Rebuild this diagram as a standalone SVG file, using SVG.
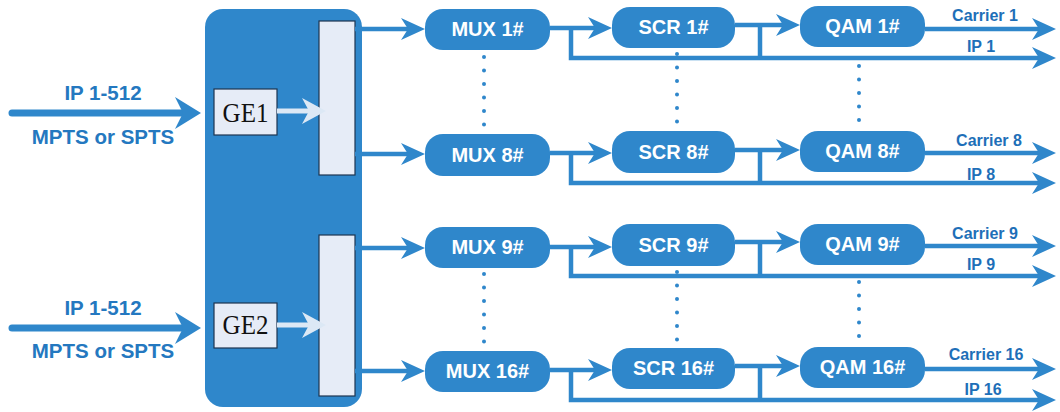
<svg xmlns="http://www.w3.org/2000/svg" width="1060" height="412" viewBox="0 0 1060 412">
<defs>
<style>
.node{fill:#2F87CB}
.nt{font-family:"Liberation Sans",Arial,sans-serif;font-weight:bold;font-size:20px;fill:#ffffff;text-anchor:middle}
.lbl{font-family:"Liberation Sans",Arial,sans-serif;font-weight:bold;font-size:16px;fill:#1E6FB8;text-anchor:middle}
.in{font-family:"Liberation Sans",Arial,sans-serif;font-weight:bold;font-size:20.5px;fill:#2478C0;text-anchor:middle}
.ge{font-family:"Liberation Serif","Times New Roman",serif;font-size:25px;fill:#111;text-anchor:middle}
.bar{fill:#E6ECF7;stroke:#1D3550;stroke-width:1.2}
.c{fill:none;stroke:#2F87CB;stroke-width:4.5}
.ca{fill:none;stroke:#2F87CB;stroke-width:4.5;marker-end:url(#ah)}
.dots{fill:none;stroke:#2F87CB;stroke-width:4;stroke-linecap:round;stroke-dasharray:0 13.5}
</style>
<marker id="ah" viewBox="0 0 24 24" refX="14" refY="12" markerWidth="24" markerHeight="24" markerUnits="userSpaceOnUse" orient="auto">
<path d="M0,1 L24,12 L0,23 L7,12 z" fill="#2F87CB"/>
</marker>
<marker id="ahin" viewBox="0 0 26 32" refX="16" refY="16" markerWidth="26" markerHeight="32" markerUnits="userSpaceOnUse" orient="auto">
<path d="M0,0 L26,16 L0,32 L8,16 z" fill="#2F87CB"/>
</marker>
<marker id="ahge" viewBox="0 0 24 26" refX="12" refY="13" markerWidth="24" markerHeight="26" markerUnits="userSpaceOnUse" orient="auto">
<path d="M0,0 L24,13 L0,26 L7,13 z" fill="#DCE8F5"/>
</marker>
</defs>
<rect width="1060" height="412" fill="#ffffff"/>

<g id="device">
<rect x="205" y="9" width="157" height="398" rx="18" class="node"/>
<rect x="319" y="21" width="36" height="154" class="bar"/>
<rect x="319" y="235" width="36" height="161" class="bar"/>
</g>
<g id="ge1">
<rect x="214" y="89" width="63" height="46" class="bar"/>
<text transform="translate(245.5,122) scale(1,1.13)" class="ge">GE1</text>
</g>
<g id="ge2">
<rect x="214" y="303" width="63" height="45" class="bar"/>
<text transform="translate(245.5,334) scale(1,1.13)" class="ge">GE2</text>
</g>

<g id="connectors">
<line x1="12" y1="113" x2="191" y2="113" stroke="#2F87CB" stroke-width="7" stroke-linecap="round" marker-end="url(#ahin)"/>
<line x1="12" y1="328" x2="191" y2="328" stroke="#2F87CB" stroke-width="7" stroke-linecap="round" marker-end="url(#ahin)"/>
<line x1="277" y1="111" x2="314" y2="111" stroke="#DCE8F5" stroke-width="5" marker-end="url(#ahge)"/>
<line x1="277" y1="325" x2="314" y2="325" stroke="#DCE8F5" stroke-width="5" marker-end="url(#ahge)"/>

<!-- row 1 -->
<line x1="355" y1="29" x2="415" y2="29" class="ca"/>
<line x1="550" y1="28" x2="602" y2="28" class="ca"/>
<path d="M571,28 V58 H1046" class="ca"/>
<line x1="735" y1="25" x2="790" y2="25" class="ca"/>
<path d="M760,25 V58" class="c"/>
<line x1="925" y1="29" x2="1046" y2="29" class="ca"/>
<!-- row 8 -->
<line x1="355" y1="154" x2="415" y2="154" class="ca"/>
<line x1="550" y1="153" x2="602" y2="153" class="ca"/>
<path d="M571,153 V183 H1046" class="ca"/>
<line x1="735" y1="150" x2="790" y2="150" class="ca"/>
<path d="M760,150 V183" class="c"/>
<line x1="925" y1="153" x2="1046" y2="153" class="ca"/>
<!-- row 9 -->
<line x1="355" y1="248" x2="415" y2="248" class="ca"/>
<line x1="550" y1="247" x2="602" y2="247" class="ca"/>
<path d="M571,247 V276 H1046" class="ca"/>
<line x1="735" y1="242" x2="790" y2="242" class="ca"/>
<path d="M760,242 V276" class="c"/>
<line x1="925" y1="246" x2="1046" y2="246" class="ca"/>
<!-- row 16 -->
<line x1="355" y1="371" x2="415" y2="371" class="ca"/>
<line x1="550" y1="370" x2="602" y2="370" class="ca"/>
<path d="M571,370 V400 H1046" class="ca"/>
<line x1="735" y1="366" x2="790" y2="366" class="ca"/>
<path d="M760,366 V400" class="c"/>
<line x1="925" y1="369" x2="1046" y2="369" class="ca"/>

<!-- dotted ellipses -->
<line x1="484" y1="57" x2="484" y2="125" class="dots"/>
<line x1="677" y1="54" x2="677" y2="122" class="dots"/>
<line x1="859" y1="66" x2="859" y2="122" class="dots"/>
<line x1="484" y1="274" x2="484" y2="342" class="dots"/>
<line x1="677" y1="272" x2="677" y2="340" class="dots"/>
<line x1="859" y1="282" x2="859" y2="338" class="dots"/>
</g>

<g id="input-labels">
<text x="103" y="100" class="in">IP 1-512</text>
<text x="103" y="144" class="in">MPTS or SPTS</text>
<text x="103" y="315" class="in">IP 1-512</text>
<text x="103" y="358" class="in">MPTS or SPTS</text>
</g>

<g id="mux1"><rect x="425" y="9" width="125" height="41" rx="18" class="node"/><text x="487.5" y="36" class="nt">MUX 1#</text></g>
<g id="mux8"><rect x="425" y="134" width="125" height="42" rx="18" class="node"/><text x="487.5" y="162" class="nt">MUX 8#</text></g>
<g id="mux9"><rect x="425" y="227" width="125" height="41" rx="18" class="node"/><text x="487.5" y="254" class="nt">MUX 9#</text></g>
<g id="mux16"><rect x="425" y="351" width="125" height="41" rx="18" class="node"/><text x="487.5" y="378" class="nt">MUX 16#</text></g>

<g id="scr1"><rect x="612" y="7" width="123" height="41" rx="18" class="node"/><text x="673.5" y="34" class="nt">SCR 1#</text></g>
<g id="scr8"><rect x="612" y="131" width="123" height="42" rx="18" class="node"/><text x="673.5" y="159" class="nt">SCR 8#</text></g>
<g id="scr9"><rect x="612" y="224" width="123" height="42" rx="18" class="node"/><text x="673.5" y="252" class="nt">SCR 9#</text></g>
<g id="scr16"><rect x="612" y="348" width="123" height="41" rx="18" class="node"/><text x="673.5" y="375" class="nt">SCR 16#</text></g>

<g id="qam1"><rect x="800" y="6" width="125" height="41" rx="18" class="node"/><text x="862.5" y="33" class="nt">QAM 1#</text></g>
<g id="qam8"><rect x="800" y="131" width="125" height="41" rx="18" class="node"/><text x="862.5" y="158" class="nt">QAM 8#</text></g>
<g id="qam9"><rect x="800" y="224" width="125" height="41" rx="18" class="node"/><text x="862.5" y="251" class="nt">QAM 9#</text></g>
<g id="qam16"><rect x="800" y="347" width="125" height="41" rx="18" class="node"/><text x="862.5" y="374" class="nt">QAM 16#</text></g>

<g id="output-labels">
<text x="985" y="21" class="lbl">Carrier 1</text>
<text x="981" y="52" class="lbl">IP 1</text>
<text x="989" y="146" class="lbl">Carrier 8</text>
<text x="981" y="180" class="lbl">IP 8</text>
<text x="985" y="239" class="lbl">Carrier 9</text>
<text x="981" y="270" class="lbl">IP 9</text>
<text x="986" y="360" class="lbl">Carrier 16</text>
<text x="983" y="395" class="lbl">IP 16</text>
</g>
</svg>
